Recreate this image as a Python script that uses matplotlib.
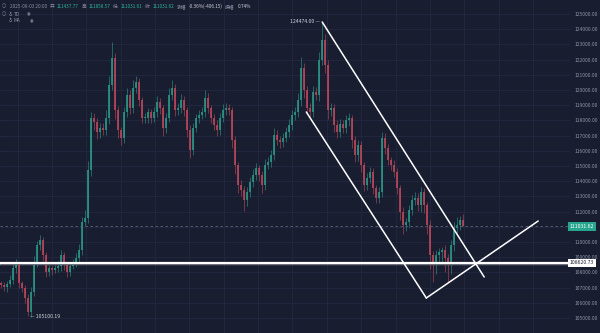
import matplotlib
matplotlib.use('Agg')
import matplotlib.pyplot as plt
import numpy as np
from matplotlib.transforms import blended_transform_factory

plt.rcParams['font.family'] = ['Noto Sans CJK SC', 'DejaVu Sans']

# ---------------- data ----------------
first_open = 107300
closes = [
    107171, 107039, 107237, 107500, 108290, 108553, 107303, 106974, 106316, 105395,
    106711, 108684, 109803, 110132, 109145, 108026, 108290, 108158, 108290, 108421,
    109145, 108487, 108026, 108421, 108684, 108947, 109474, 111316, 111579, 114737,
    118158, 117895, 117237, 117500, 117369, 118158, 120329, 122105, 118684, 117369,
    116842, 118553, 119671, 118816, 120132, 120526, 119342, 118158, 118158, 118553,
    118158, 118553, 119211, 118816, 117500, 118158, 119671, 120132, 118684, 118816,
    119342, 118684, 117369, 116053, 117500, 118158, 118355, 118553, 119474, 118816,
    118158, 117697, 117369, 118158, 118684, 118816, 118684, 116711, 115066, 113750,
    113421, 112763, 113290, 113947, 114408, 114869, 114408, 113750, 115066, 115263,
    115724, 117040, 116711, 116579, 116842, 117237, 117697, 118355, 118553, 119342,
    121448, 120000, 118816, 118553, 119869, 119671, 121974, 123290, 121645, 118684,
    118816, 117697, 117237, 117763, 117500, 118026, 118158, 116711, 115724, 116382,
    115066, 113750, 114211, 114605, 113553, 112895, 113290, 116842, 116184, 115395,
    115066, 114605, 113553, 111974, 111118, 111316, 112105, 112763, 112895, 112434,
    113290, 112434, 111118, 109145, 108684, 109145, 109342, 109474, 108947, 108487,
    109803, 110921, 111118, 111437.77, 111031.62,
]
upper_wick = [
    150, 200, 180, 300, 250, 350, 200, 150, 200, 250,
    300, 400, 250, 350, 200, 180, 220, 150, 200, 300,
    350, 200, 180, 250, 220, 300, 400, 350, 500, 600,
    400, 300, 250, 350, 300, 500, 600, 1050, 300, 250,
    200, 350, 450, 300, 500, 400, 250, 200, 300, 250,
    200, 300, 400, 250, 200, 350, 450, 500, 250, 300,
    400, 250, 200, 300, 350, 250, 300, 350, 500, 300,
    200, 250, 300, 350, 400, 300, 250, 200, 250, 200,
    300, 250, 350, 300, 400, 350, 200, 250, 400, 300,
    350, 450, 300, 250, 300, 350, 400, 300, 350, 450,
    720, 300, 250, 300, 400, 350, 500, 1184, 400, 350,
    300, 250, 300, 350, 250, 300, 350, 200, 250, 300,
    250, 200, 300, 350, 250, 200, 300, 400, 300, 250,
    200, 300, 250, 200, 300, 250, 300, 350, 400, 300,
    350, 250, 200, 300, 250, 300, 250, 200, 300, 250,
    350, 400, 500, 300, 420.80,
]
lower_wick = [
    200, 250, 300, 200, 250, 300, 350, 250, 300, 295,
    300, 250, 300, 350, 400, 300, 250, 300, 200, 250,
    300, 350, 300, 250, 200, 300, 250, 300, 250, 300,
    400, 500, 450, 400, 350, 300, 400, 300, 600, 500,
    450, 300, 350, 400, 300, 350, 400, 350, 300, 350,
    300, 250, 300, 400, 500, 300, 250, 300, 400, 350,
    300, 400, 450, 500, 300, 250, 300, 250, 300, 350,
    300, 350, 400, 300, 250, 300, 350, 500, 600, 500,
    400, 700, 400, 300, 350, 300, 400, 500, 300, 250,
    300, 350, 300, 400, 300, 250, 300, 350, 300, 300,
    400, 500, 400, 350, 300, 350, 400, 300, 500, 600,
    400, 450, 400, 300, 350, 300, 400, 500, 450, 400,
    450, 400, 350, 300, 400, 350, 300, 300, 400, 350,
    300, 350, 400, 500, 600, 400, 350, 300, 350, 400,
    450, 500, 600, 900, 1300, 800, 600, 700, 900, 1100,
    600, 400, 300, 350, 0.01,
]

price_ticks = list(range(105000, 125001, 1000))
hidden_tick = 111000          # covered by the last-price tag in the reference
last_price = 111031.62
support_price = 108620.73
max_label = ("124474.00", 107, 124474.00)
min_label = ("105100.19", 9, 105100.19)

# trend lines: (candle index, price)
channel_upper = [(107, 124474), (161, 107697)]
channel_lower = [(101.7, 118553), (141.7, 106316)]
rising_line = [(141.7, 106316), (179, 111382)]

header_parts = [
    ("2025-09-03 20:00", "#8c91a3"), ("开", "#8c91a3"), ("111437.77", "#2bb39a"),
    ("高", "#8c91a3"), ("111858.57", "#2bb39a"), ("低", "#8c91a3"),
    ("111031.61", "#2bb39a"), ("收", "#8c91a3"), ("111031.62", "#2bb39a"),
    ("涨幅", "#8c91a3"), ("-0.36%(-406.15)", "#c8ccd6"), ("振幅", "#8c91a3"),
    ("0.74%", "#c8ccd6"),
]

# ---------------- style ----------------
BG = '#191d30'
GRID = '#232841'
UP = '#2b9585'
DOWN = '#b9475a'
TXT = '#8c91a3'

fig = plt.figure(figsize=(6, 3.33), dpi=100, facecolor=BG)
ax = fig.add_axes([0, 0, 0.95, 1])
ax.set_facecolor(BG)

n = len(closes)
opens = [first_open] + closes[:-1]
xs = np.arange(n) + 0.4
for i in range(n):
    o, c = opens[i], closes[i]
    col = UP if c >= o else DOWN
    hi = max(o, c) + upper_wick[i]
    lo = min(o, c) - lower_wick[i]
    ax.vlines(xs[i], lo, hi, color=col, lw=0.5, alpha=0.85, zorder=3)
    h = max(abs(c - o), 40)
    ax.bar(xs[i], h, bottom=min(o, c), width=0.5, color=col, alpha=0.85,
           linewidth=0, zorder=3)

ax.set_xlim(0, 190)
ax.set_ylim(104013, 125921)

ax.set_yticks(price_ticks)
ax.set_yticklabels(["" if p == hidden_tick else f"{p:.2f}" for p in price_ticks])
ax.set_xticks(np.arange(177.67, 0, -11.453))
ax.set_xticklabels([])
ax.grid(True, color=GRID, lw=0.6)
ax.set_axisbelow(True)
for s in ax.spines.values():
    s.set_visible(False)
ax.tick_params(axis='y', left=False, right=False, labelleft=False,
               labelright=True, length=0, pad=3, labelsize=3.6, labelcolor=TXT)
ax.tick_params(axis='x', length=0, labelbottom=False)

# last price dashed line + label
ax.axhline(last_price, color='#56657a', lw=0.6, ls=(0, (3, 3)), zorder=4)
trans = blended_transform_factory(ax.transAxes, ax.transData)
ax.text(1.0, last_price, f"{last_price:.2f}", transform=trans, ha='left',
        va='center', fontsize=3.7, color='white', clip_on=False,
        bbox=dict(boxstyle='square,pad=0.35', fc='#26a68e', ec='none'), zorder=6)

# support line + label
ax.axhline(support_price, color='white', lw=2.3, zorder=5)
ax.axhline(support_price - 75, color=BG, lw=0.45, zorder=5)
ax.text(1.0, support_price, f"{support_price:.2f}", transform=trans, ha='left',
        va='center', fontsize=3.7, color='#1a1d2e', clip_on=False,
        bbox=dict(boxstyle='square,pad=0.35', fc='white', ec='none'), zorder=6)

# trend lines
for line in (channel_upper, channel_lower, rising_line):
    (x0, y0), (x1, y1) = line
    ax.plot([x0 + 0.4, x1 + 0.4], [y0, y1], color='white', lw=1.1, zorder=5,
            solid_capstyle='round')

# max / min labels
s, i, p = max_label
ax.text(xs[i] - 0.6, p, s + " —", ha='right', va='center', fontsize=3.7,
        color='#d0d3dc', zorder=6)
s, i, p = min_label
ax.text(xs[i] + 0.6, p, "— " + s, ha='left', va='center', fontsize=3.7,
        color='#d0d3dc', zorder=6)

# header, laid out piece by piece using measured extents
renderer = fig.canvas.get_renderer()
xpix = 10
ytop = 1 - 8 / 333
for s, col in header_parts:
    t = fig.text(xpix / 600, ytop, s, color=col, fontsize=3.4, va='baseline',
                 ha='left')
    bb = t.get_window_extent(renderer)
    xpix += bb.width + 2.6

fig.text(4 / 600, 1 - 6 / 333, "○", color=TXT, fontsize=3.6, va='center', ha='center',
         family='DejaVu Sans')
fig.text(4 / 600, 1 - 14 / 333, "○", color=TXT, fontsize=3.6, va='center', ha='center',
         family='DejaVu Sans')
fig.text(10 / 600, 1 - 14 / 333, "♁", color=TXT, fontsize=3.4, va='center', ha='center',
         family='DejaVu Sans')
fig.text(14 / 600, 1 - 14 / 333, "TD", color=TXT, fontsize=3.4, va='center', ha='left')
fig.text(29 / 600, 1 - 14 / 333, "◉", color=TXT, fontsize=3.0, va='center', ha='center',
         family='DejaVu Sans')
fig.text(10 / 600, 1 - 21 / 333, "♁", color=TXT, fontsize=3.4, va='center', ha='center',
         family='DejaVu Sans')
fig.text(14 / 600, 1 - 21 / 333, "MA", color=TXT, fontsize=3.4, va='center', ha='left')
fig.text(32 / 600, 1 - 21 / 333, "◉", color=TXT, fontsize=3.0, va='center', ha='center',
         family='DejaVu Sans')

fig.savefig('out.png', dpi=100, facecolor=BG)
